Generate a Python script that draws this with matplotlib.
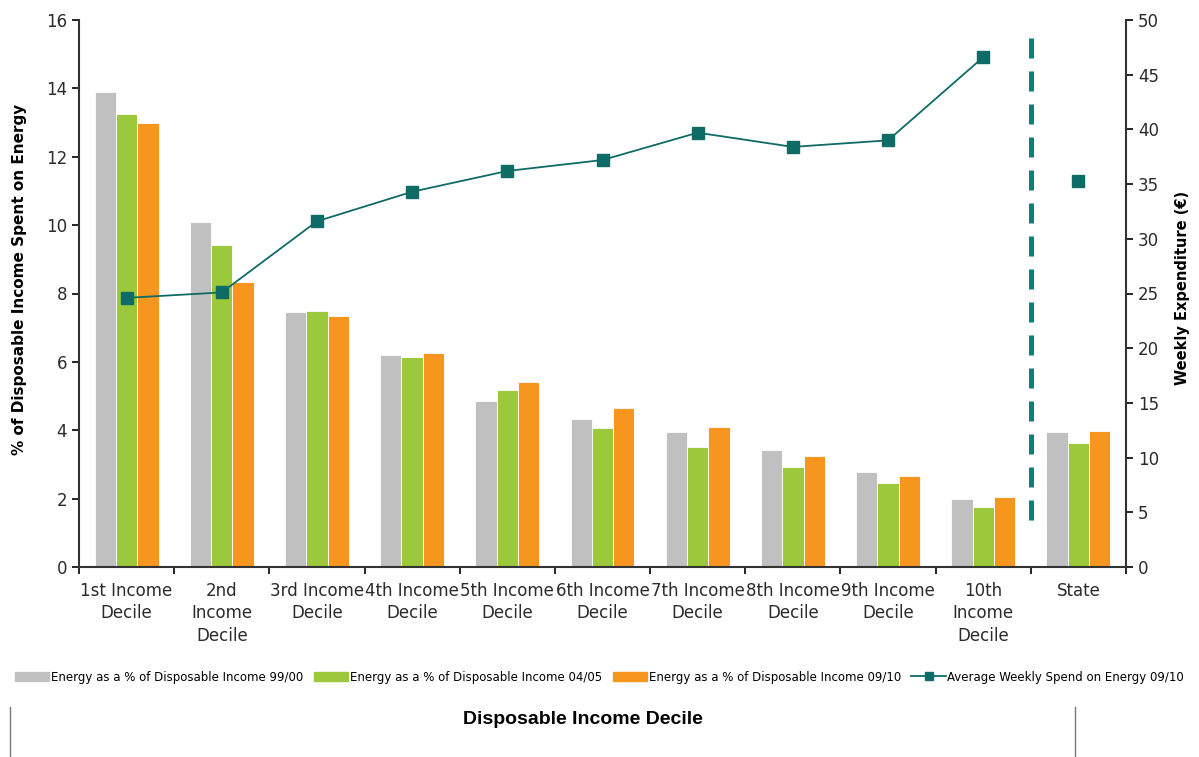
import numpy as np
import matplotlib
matplotlib.use("Agg")
import matplotlib.pyplot as plt
from matplotlib.patches import Patch
from matplotlib.lines import Line2D

# --- data ---
categories = ["1st Income\nDecile", "2nd\nIncome\nDecile", "3rd Income\nDecile",
              "4th Income\nDecile", "5th Income\nDecile", "6th Income\nDecile",
              "7th Income\nDecile", "8th Income\nDecile", "9th Income\nDecile",
              "10th\nIncome\nDecile", "State"]
share_9900 = [13.9, 10.08, 7.46, 6.2, 4.87, 4.34, 3.96, 3.41, 2.77, 1.99, 3.95]
share_0405 = [13.24, 9.41, 7.49, 6.13, 5.17, 4.08, 3.50, 2.92, 2.46, 1.76, 3.64]
share_0910 = [13.0, 8.35, 7.33, 6.26, 5.42, 4.65, 4.09, 3.25, 2.66, 2.04, 3.98]
weekly_spend = [24.6, 25.1, 31.6, 34.3, 36.2, 37.2, 39.7, 38.4, 39.0, 46.6]
weekly_spend_state = 35.3
series_labels = ["Energy as a % of Disposable Income 99/00",
                 "Energy as a % of Disposable Income 04/05",
                 "Energy as a % of Disposable Income 09/10",
                 "Average Weekly Spend on Energy 09/10"]

GREY, GREEN, ORANGE = "#c0c0c0", "#9bc93b", "#f7961e"
TEAL, DASH = "#0e6b66", "#0b8078"

fig = plt.figure(figsize=(11.99, 7.57), dpi=100)
ax = fig.add_axes([79 / 1199, 1 - 567 / 757, (1126 - 79) / 1199, (567 - 20) / 757])
ax2 = ax.twinx()

x = np.arange(len(categories))
w = 0.224
for off, vals, col in [(-w, share_9900, GREY), (0, share_0405, GREEN), (w, share_0910, ORANGE)]:
    ax.bar(x + off, vals, w, color=col, edgecolor="white", linewidth=0.6, zorder=2)

ax.set_xlim(-0.5, len(categories) - 0.5)
ax.set_ylim(0, 16)
ax.set_yticks(range(0, 17, 2))
ax.set_xticks(np.arange(-0.5, len(categories)), minor=False)
ax.set_xticklabels([])
ax.set_xticks(x, minor=True)
ax.set_xticklabels(categories, minor=True, fontsize=12, color="#2b2b2b", linespacing=1.3)
ax.tick_params(axis="x", which="minor", length=0, pad=11)
ax.tick_params(axis="x", which="major", length=5, width=1.2)
ax.tick_params(axis="y", labelsize=12, labelcolor="#2b2b2b", length=5, width=1.2)
for s in ["top", "right"]:
    ax.spines[s].set_visible(False)
for s in ["left", "bottom"]:
    ax.spines[s].set_linewidth(1.5)
    ax.spines[s].set_color("#333333")
ax.set_ylabel("% of Disposable Income Spent on Energy", fontsize=11, fontweight="bold")
ax.yaxis.set_label_coords(-0.05, 0.525)

# secondary axis: weekly spend line + State marker + divider
ax2.plot(x[:-1], weekly_spend, color=TEAL, lw=1.3, marker="s", ms=8, zorder=4)
ax2.plot(x[-1], weekly_spend_state, color=TEAL, marker="s", ms=8, ls="none", zorder=4)
ax2.vlines(len(categories) - 1.5, 4.3, 49.3, colors=DASH, linestyles=(0, (4, 2.6)), lw=3.6)
ax2.set_ylim(0, 50)
ax2.set_yticks(range(0, 51, 5))
ax2.tick_params(axis="y", labelsize=12, labelcolor="#2b2b2b", length=5, width=1.2)
for s in ["top", "left", "bottom"]:
    ax2.spines[s].set_visible(False)
ax2.spines["right"].set_linewidth(1.5)
ax2.spines["right"].set_color("#333333")
ax2.set_ylabel("Weekly Expenditure (€)", fontsize=10.5, fontweight="bold")
ax2.yaxis.set_label_coords(1.047, 0.51)

handles = [Patch(color=GREY), Patch(color=GREEN), Patch(color=ORANGE),
           Line2D([], [], color=TEAL, lw=1.3, marker="s", ms=6)]
fig.legend(handles, series_labels, loc="center", bbox_to_anchor=(0.5, 1 - 677 / 757),
           ncol=4, frameon=False, prop={"size": 8.5},
           handlelength=2.9, handleheight=0.8, handletextpad=0.15, columnspacing=0.9)

# bottom caption box
for xl in (10, 1075):
    fig.add_artist(Line2D([xl / 1199] * 2, [0, 1 - 707 / 757], color="#777777", lw=1))
fig.text(583 / 1199, 1 - 720 / 757, "Disposable Income Decile", ha="center", va="center",
         fontsize=14, fontweight="bold", family=["Liberation Sans", "DejaVu Sans"])

fig.savefig("out.png", dpi=100)
